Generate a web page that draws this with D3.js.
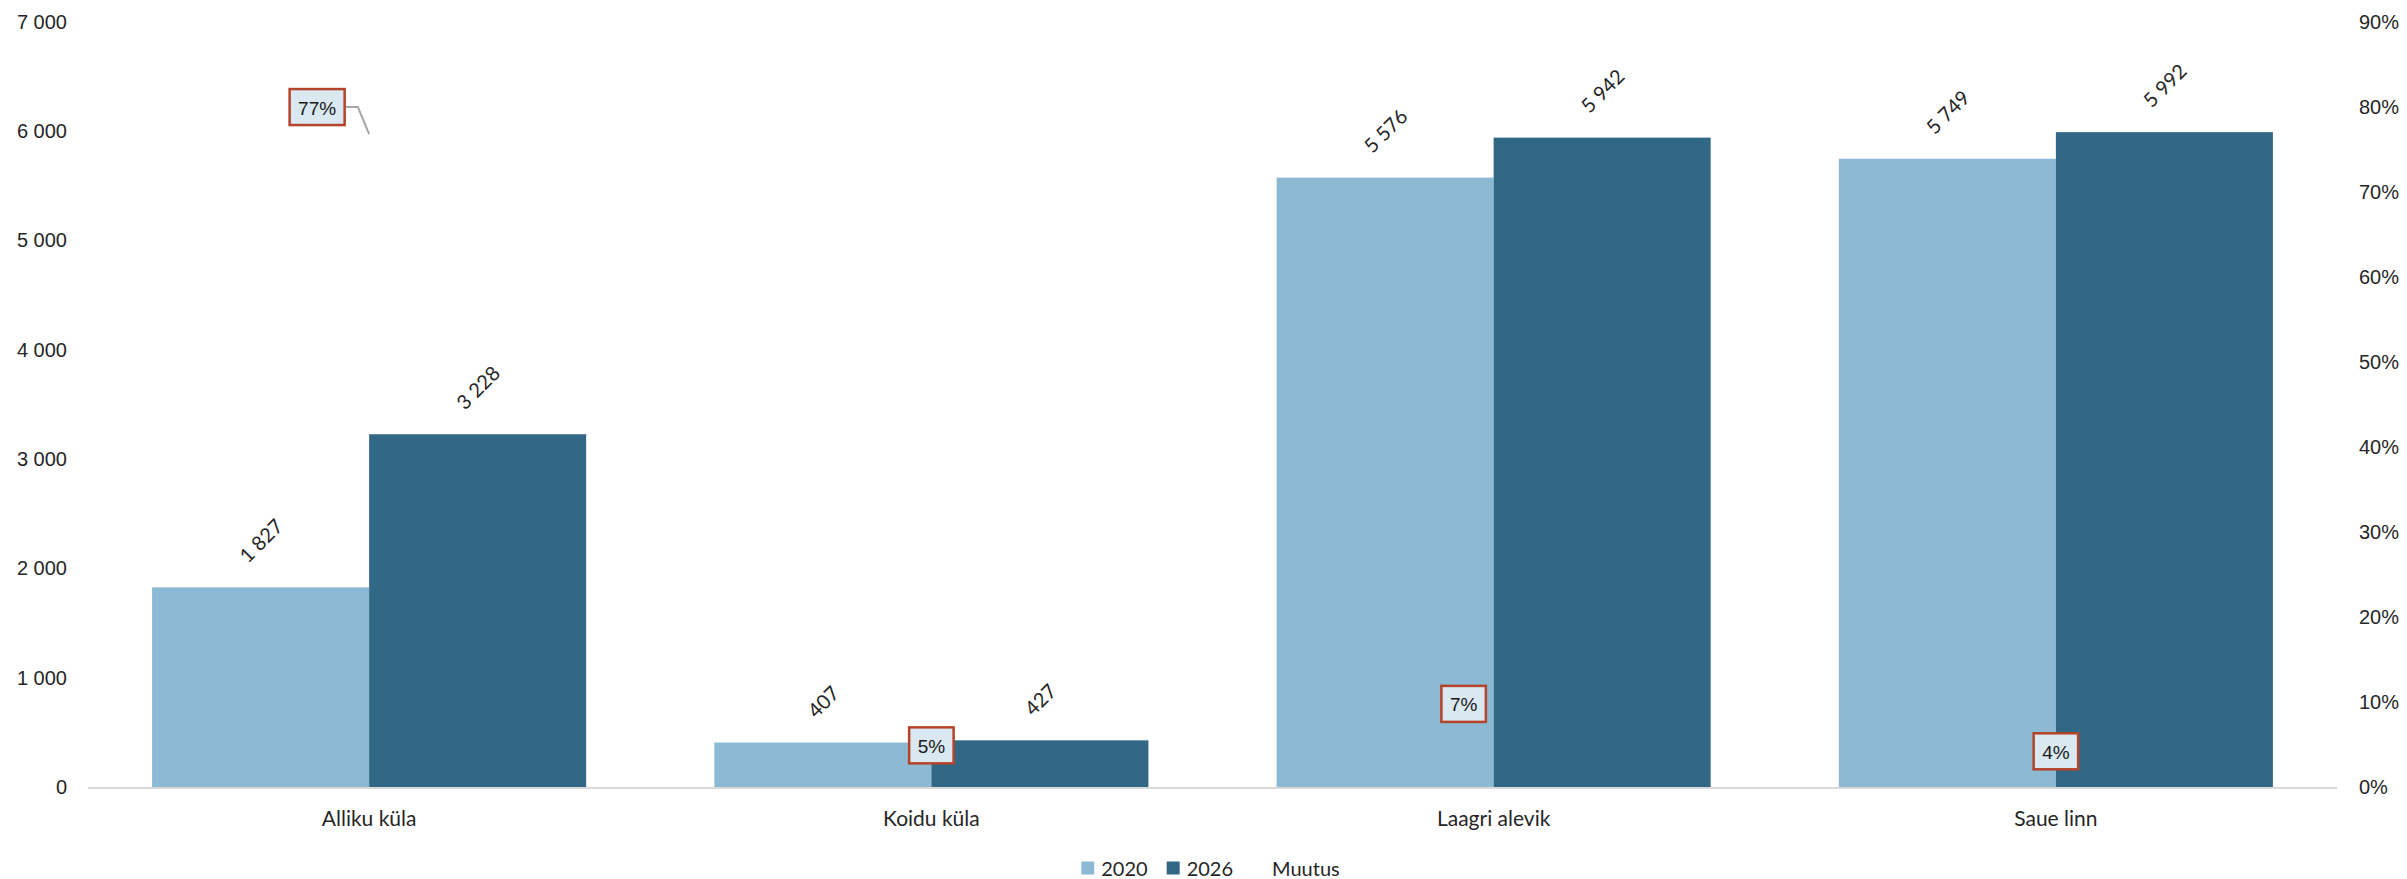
<!DOCTYPE html>
<html>
<head>
<meta charset="utf-8">
<script src="https://cdn.jsdelivr.net/npm/d3@7"></script>
<style>
  html, body { margin: 0; padding: 0; background: #fff; }
  svg { display: block; }
</style>
</head>
<body>
<svg id="chart" width="2407" height="879"></svg>
<script>
// ---- data ----
const categories = ["Alliku küla", "Koidu küla", "Laagri alevik", "Saue linn"];
const seriesNames = ["2020", "2026"];
const values2020 = [1827, 407, 5576, 5749];
const values2026 = [3228, 427, 5942, 5992];
const muutus = [0.767, 0.049, 0.066, 0.042];
const muutusLabel = "Muutus";
const leftTicks = [0, 1000, 2000, 3000, 4000, 5000, 6000, 7000];
const rightTicks = [0, 0.1, 0.2, 0.3, 0.4, 0.5, 0.6, 0.7, 0.8, 0.9];

// ---- layout / style config ----
const W = 2407, H = 879;
const plot = { left: 88, right: 2337, top: 22, bottom: 787 };
const colors = { "2020": "#8cb9d3", "2026": "#316886" };
const boxLabelShift = [{dx: -52, dy: -28, leader: true}, {dx: 0, dy: 0}, {dx: -30, dy: -27}, {dx: 0, dy: 0}];

const loc = d3.formatLocale({ decimal: ",", thousands: "\u00a0", grouping: [3] });
const fmtNum = loc.format(",d");
const fmtPct = d3.format(".0%");

const svg = d3.select("#chart");

const x0 = d3.scaleBand().domain(categories).range([plot.left, plot.right])
  .paddingInner(0.228).paddingOuter(0.114);
const x1 = d3.scaleBand().domain(seriesNames).range([0, x0.bandwidth()]).padding(0);
const y = d3.scaleLinear().domain([0, 7000]).range([plot.bottom, plot.top]);
const y2 = d3.scaleLinear().domain([0, 0.9]).range([plot.bottom, plot.top]);

// left axis
const leftAxis = svg.append("g").attr("transform", `translate(${plot.left},0)`)
  .call(d3.axisLeft(y).tickValues(leftTicks).tickFormat(d => fmtNum(d)).tickSize(0).tickPadding(21));
leftAxis.select(".domain").remove();
leftAxis.selectAll("text").attr("font-family", "'Liberation Sans', Arial, sans-serif")
  .attr("font-size", 20).attr("fill", "#262626");

// right axis
const rightAxis = svg.append("g").attr("transform", `translate(${plot.right},0)`)
  .call(d3.axisRight(y2).tickValues(rightTicks).tickFormat(d => fmtPct(d)).tickSize(0).tickPadding(22));
rightAxis.select(".domain").remove();
rightAxis.selectAll("text").attr("font-family", "'Liberation Sans', Arial, sans-serif")
  .attr("font-size", 20).attr("fill", "#262626");

// bars
const rows = categories.map((c, i) => ({ cat: c, vals: [
  { s: "2020", v: values2020[i] }, { s: "2026", v: values2026[i] }] }));

const groups = svg.append("g").selectAll("g").data(rows).join("g")
  .attr("transform", d => `translate(${x0(d.cat)},0)`);

groups.selectAll("rect").data(d => d.vals).join("rect")
  .attr("x", d => x1(d.s)).attr("width", x1.bandwidth())
  .attr("y", d => y(d.v)).attr("height", d => y(0) - y(d.v))
  .attr("fill", d => colors[d.s]);

// x axis line
svg.append("line").attr("x1", plot.left).attr("x2", plot.right)
  .attr("y1", plot.bottom + 1).attr("y2", plot.bottom + 1)
  .attr("stroke", "#d9d9d9").attr("stroke-width", 2);

// category labels
const xAxis = svg.append("g").attr("transform", `translate(0,${plot.bottom})`)
  .call(d3.axisBottom(x0).tickSize(0).tickPadding(24));
xAxis.select(".domain").remove();
xAxis.selectAll("text").attr("font-family", "Lato, 'Open Sans', sans-serif")
  .attr("font-size", 21).attr("fill", "#262626");

// value labels (rotated)
groups.selectAll("text.val").data(d => d.vals).join("text")
  .attr("class", "val")
  .attr("font-family", "Lato, 'Open Sans', sans-serif")
  .attr("font-size", 20).attr("fill", "#262626")
  .attr("text-anchor", "middle").attr("dominant-baseline", "central")
  .text(d => fmtNum(d.v))
  .each(function(d) {
    const L = this.getComputedTextLength();
    const off = 24 + (L + 14) / (2 * Math.SQRT2);
    const cx = x1(d.s) + x1.bandwidth() / 2;
    const cy = y(d.v) - off;
    d3.select(this).attr("transform", `translate(${cx},${cy}) rotate(-45)`);
  });

// Muutus labels (boxes)
const boxG = svg.append("g");
muutus.forEach((m, i) => {
  const px = x0(categories[i]) + x0.bandwidth() / 2;
  const py = y2(m);
  const sh = boxLabelShift[i];
  const cx = px + sh.dx, cy = py + sh.dy;
  const g = boxG.append("g");
  const rect = g.append("rect");
  const t = g.append("text").attr("x", cx).attr("y", cy + 1)
    .attr("text-anchor", "middle").attr("dominant-baseline", "central")
    .attr("font-family", "'Liberation Sans', Arial, sans-serif")
    .attr("font-size", 19).attr("fill", "#1a1a1a").text(fmtPct(m));
  const tw = t.node().getComputedTextLength();
  const bw = tw + 17, bh = 36;
  rect.attr("x", cx - bw / 2).attr("y", cy - bh / 2).attr("width", bw).attr("height", bh)
    .attr("fill", "#d9e8f1").attr("stroke", "#b5432a").attr("stroke-width", 2.5);
  if (sh.leader) {
    const rx = cx + bw / 2 + 1.25;
    g.insert("path", "rect")
      .attr("d", `M${rx},${cy} H${rx + 12} L${px},${py - 1}`)
      .attr("fill", "none").attr("stroke", "#a6a6a6").attr("stroke-width", 2);
  }
});

// legend
const legendItems = [
  { name: seriesNames[0], color: colors["2020"] },
  { name: seriesNames[1], color: colors["2026"] },
  { name: muutusLabel, color: "none" }
];
const lg = svg.append("g");
let lx = 0;
const legendY = 868;
legendItems.forEach(it => {
  const g = lg.append("g").attr("transform", `translate(${lx},0)`);
  if (it.color !== "none") {
    g.append("rect").attr("x", 0).attr("y", legendY - 6.5).attr("width", 13).attr("height", 13)
      .attr("fill", it.color);
  }
  const t = g.append("text").attr("x", 20).attr("y", legendY)
    .attr("dominant-baseline", "central")
    .attr("font-family", "Lato, 'Open Sans', sans-serif")
    .attr("font-size", 20).attr("fill", "#262626").text(it.name);
  const w = t.node().getComputedTextLength();
  lx += 20 + w + 19;
});
const totalW = lx - 19;
lg.attr("transform", `translate(${(plot.left + plot.right) / 2 - 2 - totalW / 2},0)`);
</script>
</body>
</html>
